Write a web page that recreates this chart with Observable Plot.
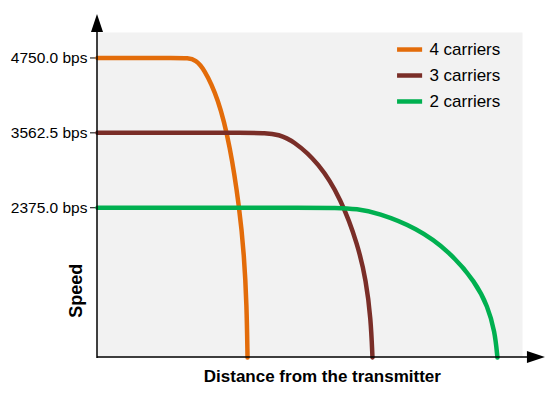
<!DOCTYPE html>
<html>
<head>
<meta charset="utf-8">
<script src="https://cdn.jsdelivr.net/npm/d3@7"></script>
<script src="https://cdn.jsdelivr.net/npm/@observablehq/plot@0.6"></script>
<style>
  html, body { margin: 0; padding: 0; background: #fff; }
  svg { display: block; }
  svg text { font-family: "Liberation Sans", Arial, sans-serif; }
</style>
</head>
<body>
<div id="chart"></div>
<script>
// Series names and colors
const seriesNames = ["4 carriers", "3 carriers", "2 carriers"];
const seriesColors = ["#E36C0A", "#7A2E28", "#00B050"];

// Distance (arbitrary units, 0..100) and speed (bps)
const dist4 = [0, 10.0, 18.0, 21.4, 23.1, 25.0, 28.4, 31.2, 33.4, 34.5, 35.1, 35.3];
const speed4 = [4750, 4750, 4750, 4750, 4716, 4588, 4114, 3359, 2375, 1625, 827, 0];

const dist3 = [0, 20.0, 35.0, 39.5, 42.6, 46.0, 52.1, 57.3, 61.3, 63.2, 64.3, 64.7];
const speed3 = [3562.5, 3562.5, 3562.5, 3562.5, 3536, 3441, 3085, 2519, 1781, 1218, 620, 0];

const dist2 = [0, 25.0, 50.0, 56.0, 61.1, 65.9, 75.1, 82.9, 89.0, 91.8, 93.5, 94.1];
const speed2 = [2375, 2375, 2375, 2375, 2357, 2294, 2057, 1679, 1188, 812, 413, 0];

const yTicks = [2375, 3562.5, 4750];

const series = [
  {name: seriesNames[0], xs: dist4, ys: speed4},
  {name: seriesNames[1], xs: dist3, ys: speed3},
  {name: seriesNames[2], xs: dist2, ys: speed2}
];
const rows = series.flatMap(s => s.xs.map((x, i) => ({series: s.name, x, y: s.ys[i]})));

const legendRows = seriesNames.map((n, i) => ({series: n, y: 4884 - i * 412}));

const FONT = "'Liberation Sans', Arial, sans-serif";
const W = 553, H = 394;
const chart = Plot.plot({
  width: W,
  height: H,
  marginLeft: 97,
  marginRight: 31,
  marginTop: 32,
  marginBottom: 37,
  style: {fontFamily: FONT, background: "#fff", overflow: "visible"},
  x: {domain: [0, 100], axis: null},
  y: {domain: [0, 5154], label: null},
  color: {domain: seriesNames, range: seriesColors},
  marks: [
    Plot.frame({fill: "#F2F2F2", stroke: null}),
    Plot.axisY({ticks: yTicks, tickFormat: d => d.toFixed(1) + " bps", tickSize: 7, tickPadding: 3, fontSize: 15.5, fontFamily: FONT, label: null, color: "#000"}),
    Plot.line(rows, {x: "x", y: "y", z: "series", stroke: "series", strokeWidth: 4.5, curve: "basis"}),
    // legend swatches and labels
    Plot.ruleY(legendRows, {y: "y", x1: 70.6, x2: 76.5, stroke: "series", strokeWidth: 4.5}),
    Plot.text(legendRows, {y: "y", x: 78.1, text: "series", textAnchor: "start", fontSize: 17, fontFamily: FONT, fill: "#000"}),
    // axis titles
    Plot.text(["Distance from the transmitter"], {x: 52.9, y: -305, text: d => d, fontSize: 17, fontFamily: FONT, fontWeight: "bold", fill: "#000"}),
    Plot.text(["Speed"], {x: -4.9, y: 1060, text: d => d, fontSize: 18, fontFamily: FONT, fontWeight: "bold", rotate: -90, fill: "#000"})
  ]
});

// Axis lines with filled arrowheads, positioned through Plot's scales
const sx = chart.scale("x"), sy = chart.scale("y");
const svg = d3.select(chart);
const x0 = sx.apply(0), y0 = sy.apply(0);
const xEnd = sx.apply(105.4), yEnd = sy.apply(5440);
const g = svg.append("g");
g.append("line").attr("x1", x0).attr("x2", x0).attr("y1", y0 + 1).attr("y2", yEnd + 16).attr("stroke", "#000").attr("stroke-width", 1.5);
g.append("line").attr("x1", x0).attr("x2", xEnd - 16).attr("y1", y0).attr("y2", y0).attr("stroke", "#000").attr("stroke-width", 1.5);
g.append("path").attr("d", `M${x0},${yEnd} L${x0 - 6},${yEnd + 18} L${x0 + 6},${yEnd + 18} Z`).attr("fill", "#000");
g.append("path").attr("d", `M${xEnd},${y0} L${xEnd - 18},${y0 - 6} L${xEnd - 18},${y0 + 6} Z`).attr("fill", "#000");

document.getElementById("chart").appendChild(chart);
</script>
</body>
</html>
